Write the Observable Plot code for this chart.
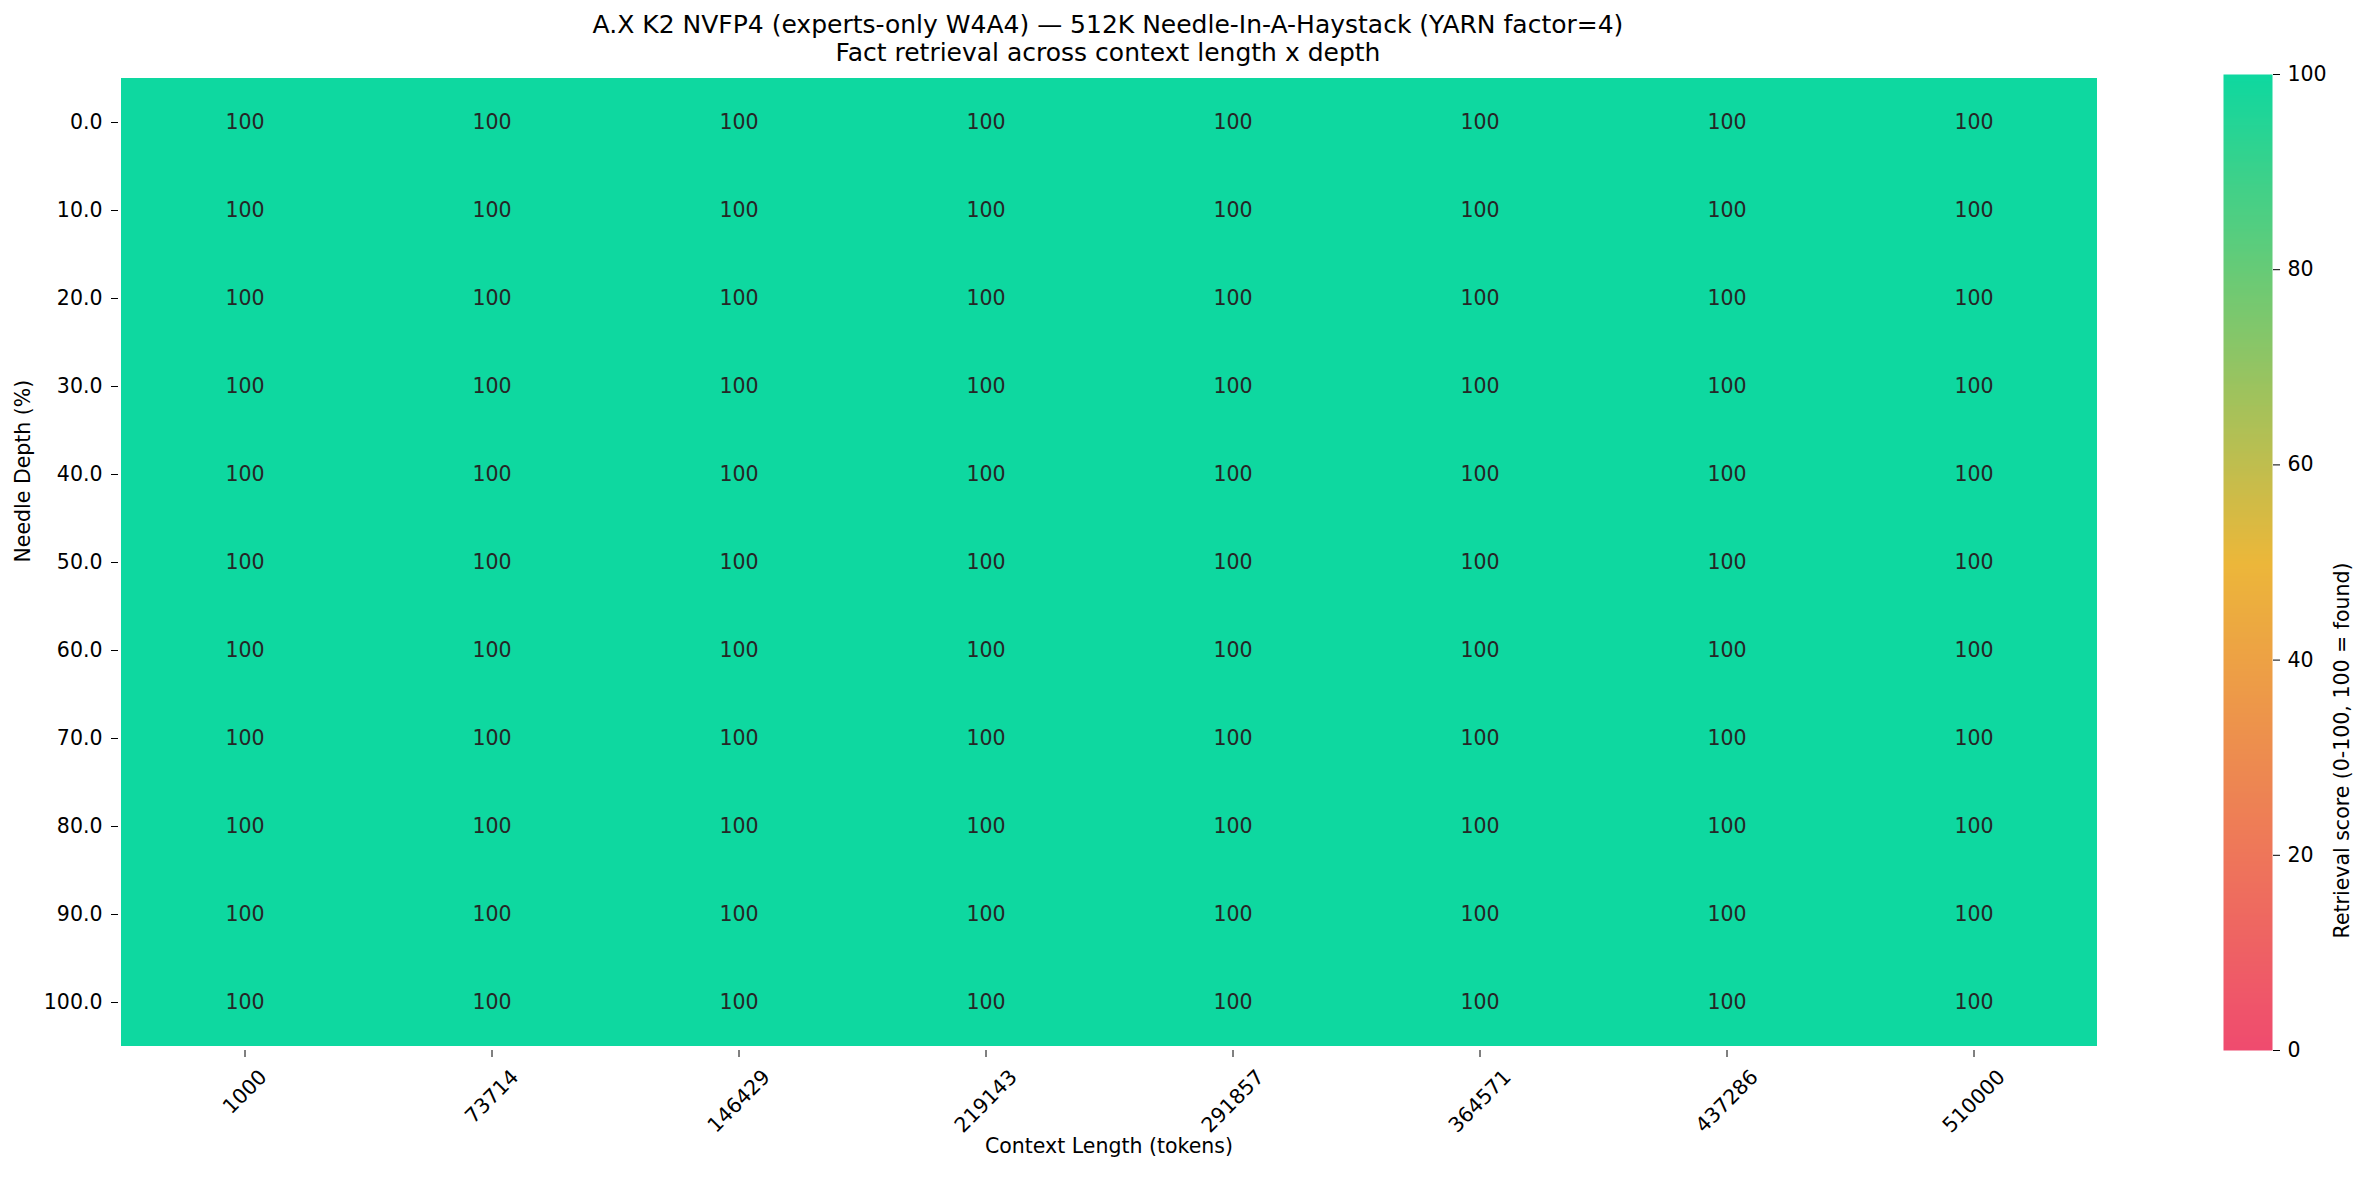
<!DOCTYPE html>
<html>
<head>
<meta charset="utf-8">
<script src="https://cdn.jsdelivr.net/npm/d3@7"></script>
<script src="https://cdn.jsdelivr.net/npm/@observablehq/plot@0.6"></script>
<style>
  html, body { margin: 0; padding: 0; background: #fff; }
  #root { position: relative; width: 2369px; height: 1178px; font-family: "DejaVu Sans", sans-serif; overflow: hidden; }
  #title { position: absolute; left: 0; top: 0; width: 2216px; height: 66px; text-align: center;
           font-size: 25px; line-height: 28px; padding-top: 11px; box-sizing: border-box; color: #000; }
  #main { position: absolute; left: 0; top: 66px; }
  #cbar { position: absolute; left: 2200px; top: 66px; }
</style>
</head>
<body>
<div id="root">
  <div id="title">A.X K2 NVFP4 (experts-only W4A4) — 512K Needle-In-A-Haystack (YARN factor=4)<br>Fact retrieval across context length x depth</div>
  <div id="main"></div>
  <div id="cbar"></div>
</div>
<script>
// ---- data ----
const contextLengths = [1000, 73714, 146429, 219143, 291857, 364571, 437286, 510000];
const depths = [0, 10, 20, 30, 40, 50, 60, 70, 80, 90, 100];
// scores[row = depth][col = context length]
const scores = [
  [100, 100, 100, 100, 100, 100, 100, 100],
  [100, 100, 100, 100, 100, 100, 100, 100],
  [100, 100, 100, 100, 100, 100, 100, 100],
  [100, 100, 100, 100, 100, 100, 100, 100],
  [100, 100, 100, 100, 100, 100, 100, 100],
  [100, 100, 100, 100, 100, 100, 100, 100],
  [100, 100, 100, 100, 100, 100, 100, 100],
  [100, 100, 100, 100, 100, 100, 100, 100],
  [100, 100, 100, 100, 100, 100, 100, 100],
  [100, 100, 100, 100, 100, 100, 100, 100],
  [100, 100, 100, 100, 100, 100, 100, 100]
];
const colorTicks = [0, 20, 40, 60, 80, 100];
const colorStops = [0, 50, 100];
const colorRange = ["#ef4b6f", "#ecb73a", "#0ed8a0"];

// ---- build table ----
const depthLabel = d => d.toFixed(1);
const cells = [];
depths.forEach((d, i) => contextLengths.forEach((c, j) => {
  cells.push({ x: String(c), y: depthLabel(d), score: scores[i][j] });
}));

const colorScale = { type: "linear", domain: colorStops, range: colorRange };
const FS = 20.5;

// x tick labels grouped by digit count (rotated, centred on tick like matplotlib)
const byLen = d3.group(contextLengths.map(String), s => s.length);
const xLabelMarks = Array.from(byLen, ([n, labels]) =>
  Plot.text(labels, {
    x: d => d, text: d => d, frameAnchor: "bottom", rotate: -45,
    textAnchor: "middle", lineAnchor: "middle", fontSize: FS, fill: "#000",
    dy: 41.5 + (n - 4) * 4.7
  })
);

const main = Plot.plot({
  width: 2369,
  height: 1112,
  marginLeft: 118,
  marginRight: 270,
  marginTop: 8,
  marginBottom: 128,
  style: { fontFamily: "DejaVu Sans, sans-serif", fontSize: FS + "px", color: "#000", background: "transparent" },
  x: { type: "band", domain: contextLengths.map(String), padding: 0, label: null },
  y: { type: "band", domain: depths.map(depthLabel), padding: 0, label: null },
  color: colorScale,
  marks: [
    Plot.cell(cells, { x: "x", y: "y", fill: "score" }),
    Plot.text(cells, { x: "x", y: "y", text: d => String(d.score), fill: "#262626", fontSize: FS }),
    Plot.axisY({ tickSize: 7, tickPadding: 9, fontSize: FS, label: null, stroke: "#000", fill: "#000" }),
    Plot.axisX({ tickSize: 7, tickFormat: () => "", label: null, stroke: "#000" }),
    ...xLabelMarks,
    Plot.text(["Context Length (tokens)"], { frameAnchor: "bottom", dy: 102, fontSize: FS, fill: "#000" }),
    Plot.text(["Needle Depth (%)"], { frameAnchor: "left", dx: -95, rotate: -90, fontSize: FS, fill: "#000" })
  ]
});
document.getElementById("main").appendChild(main);

const cbar = Plot.plot({
  width: 169,
  height: 1112,
  marginLeft: 23,
  marginRight: 97,
  marginTop: 8,
  marginBottom: 128,
  style: { fontFamily: "DejaVu Sans, sans-serif", fontSize: FS + "px", color: "#000", background: "transparent", overflow: "visible" },
  x: { domain: [0, 1], axis: null },
  y: { domain: [0, 100], axis: null },
  color: colorScale,
  marks: [
    Plot.raster({ fill: (x, y) => y, x1: 0, x2: 1, y1: 0, y2: 100, width: 1, height: 400, imageRendering: "auto" }),
    Plot.axisY({ anchor: "right", ticks: colorTicks, tickSize: 7, tickPadding: 8, fontSize: FS, label: null, stroke: "#000", fill: "#000" }),
    Plot.text(["Retrieval score (0-100, 100 = found)"], { frameAnchor: "right", dx: 70, rotate: -90, fontSize: FS, fill: "#000" })
  ]
});
document.getElementById("cbar").appendChild(cbar);
</script>
</body>
</html>
